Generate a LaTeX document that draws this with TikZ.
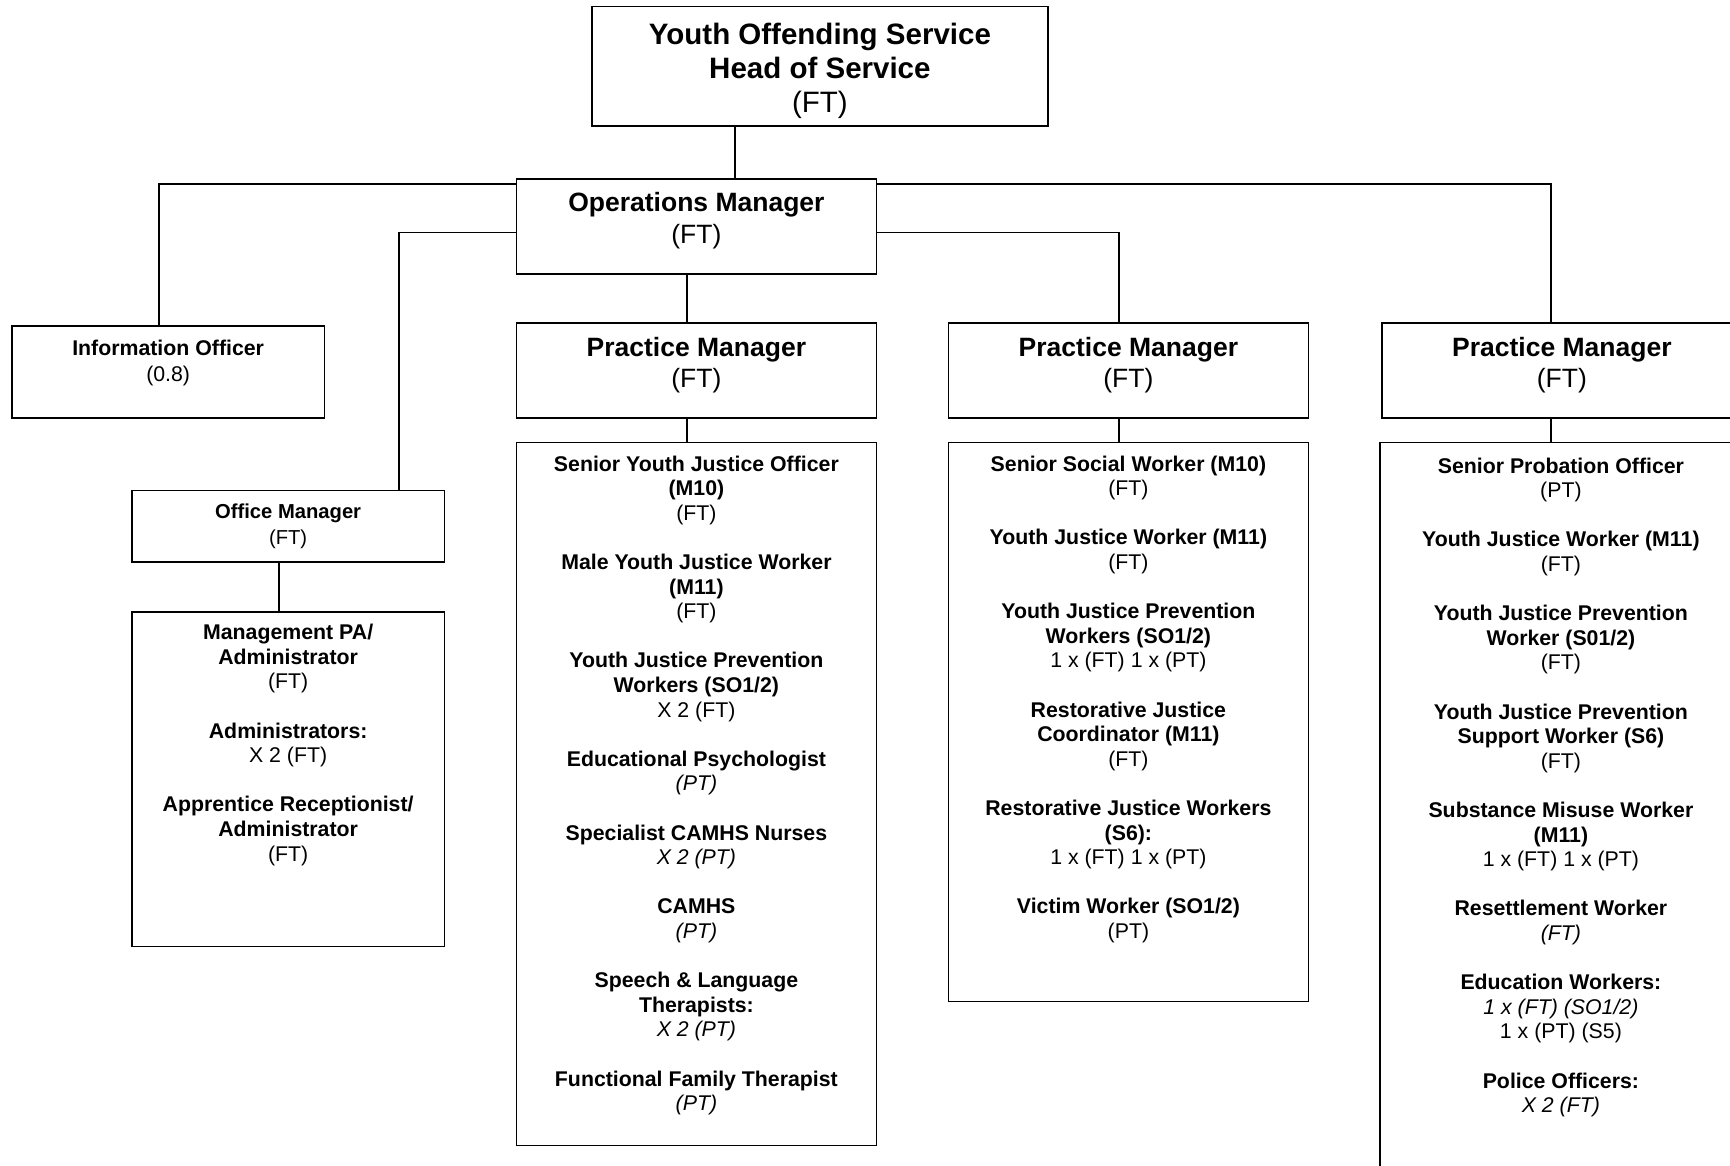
\documentclass[tikz,border=0pt]{standalone}
\usepackage{fontspec}
\setmainfont{Liberation Sans}
\usetikzlibrary{positioning}
\tikzset{box/.style = {draw, line width=1.8pt, inner sep=0, anchor=north west}}
\tikzset{txt/.style = {anchor=north, align=center, inner sep=0}}
\tikzset{link/.style = {line width=1.8pt}}
\tikzset{bigfont/.style = {font=\fontsize{29.5}{34}\selectfont}}
\tikzset{midfont/.style = {font=\fontsize{26.5}{31.5}\selectfont}}
\tikzset{smallfont/.style = {font=\fontsize{21.3}{24.6}\selectfont}}
\tikzset{tinyfont/.style = {font=\fontsize{20.2}{25.7}\selectfont}}

\begin{document}
\begin{tikzpicture}[x=1pt, y=-1pt]
      \useasboundingbox (0,0) rectangle (1730,1165);
      \clip (0,0) rectangle (1730,1165);
      \node [box, minimum width=456pt, minimum height=119.5pt] (head) at (591,5.5) {};
      \node [box, minimum width=360pt, minimum height=95pt] (ops) at (515.5,177.7) {};
      \node [box, minimum width=312.5pt, minimum height=92pt] (info) at (11,325.3) {};
      \node [box, minimum width=360pt, minimum height=95.3pt] (pmA) at (515.5,322) {};
      \node [box, minimum width=360pt, minimum height=95.3pt] (pmB) at (947.5,322) {};
      \node [box, minimum width=360pt, minimum height=95.3pt] (pmC) at (1381,322) {};
      \node [box, minimum width=312.5pt, minimum height=71.5pt] (office) at (131,489.5) {};
      \node [box, minimum width=312.5pt, minimum height=334.5pt] (admin) at (131,611) {};
      \node [box, minimum width=360pt, minimum height=703pt] (staffA) at (515.5,441.5) {};
      \node [box, minimum width=360pt, minimum height=559pt] (staffB) at (947.5,441.5) {};
      \node [box, minimum width=362pt, minimum height=760pt] (staffC) at (1379,441.5) {};
      \node [txt, bigfont] (headtxt) at ([yshift=-17pt]head.north)
        {\textbf{Youth Offending Service}\\ \textbf{Head of Service}\\ (FT)};
      \node [txt, midfont] (opstxt) at ([yshift=-14.5pt]ops.north)
        {\textbf{Operations Manager}\\ (FT)};
      \node [txt, smallfont, font=\fontsize{21.3}{25.7}\selectfont] (infotxt) at ([yshift=-15pt]info.north)
        {\textbf{Information Officer}\\ (0.8)};
      \node [txt, midfont] (pmAtxt) at ([yshift=-15pt]pmA.north) {\textbf{Practice Manager}\\ (FT)};
      \node [txt, midfont] (pmBtxt) at ([yshift=-15pt]pmB.north) {\textbf{Practice Manager}\\ (FT)};
      \node [txt, midfont] (pmCtxt) at ([yshift=-15pt]pmC.north) {\textbf{Practice Manager}\\ (FT)};
      \node [txt, tinyfont] (officetxt) at ([yshift=-14pt]office.north) {\textbf{Office Manager}\\ (FT)};
      \node [txt, smallfont] (admintxt) at ([yshift=-13pt]admin.north)
        {\textbf{Management PA/}\\ \textbf{Administrator}\\ (FT)\\[24.6pt]
         \textbf{Administrators:}\\ X 2 (FT)\\[24.6pt]
         \textbf{Apprentice Receptionist/}\\ \textbf{Administrator}\\ (FT)};
      \node [txt, smallfont] (staffAtxt) at ([yshift=-14pt]staffA.north)
        {\textbf{Senior Youth Justice Officer}\\ \textbf{(M10)}\\ (FT)\\[24.6pt]
         \textbf{Male Youth Justice Worker}\\ \textbf{(M11)}\\ (FT)\\[24.6pt]
         \textbf{Youth Justice Prevention}\\ \textbf{Workers (SO1/2)}\\ X 2 (FT)\\[24.6pt]
         \textbf{Educational Psychologist}\\ \textit{(PT)}\\[24.6pt]
         \textbf{Specialist CAMHS Nurses}\\ \textit{X 2 (PT)}\\[24.6pt]
         \textbf{CAMHS}\\ \textit{(PT)}\\[24.6pt]
         \textbf{Speech \& Language}\\ \textbf{Therapists:}\\ \textit{X 2 (PT)}\\[24.6pt]
         \textbf{Functional Family Therapist}\\ \textit{(PT)}};
      \node [txt, smallfont] (staffBtxt) at ([yshift=-14pt]staffB.north)
        {\textbf{Senior Social Worker (M10)}\\ (FT)\\[24.6pt]
         \textbf{Youth Justice Worker (M11)}\\ (FT)\\[24.6pt]
         \textbf{Youth Justice Prevention}\\ \textbf{Workers (SO1/2)}\\ 1 x (FT) 1 x (PT)\\[24.6pt]
         \textbf{Restorative Justice}\\ \textbf{Coordinator (M11)}\\ (FT)\\[24.6pt]
         \textbf{Restorative Justice Workers}\\ \textbf{(S6):}\\ 1 x (FT) 1 x (PT)\\[24.6pt]
         \textbf{Victim Worker (SO1/2)}\\ (PT)};
      \node [txt, smallfont] (staffCtxt) at ([yshift=-16pt]staffC.north)
        {\textbf{Senior Probation Officer}\\ (PT)\\[24.6pt]
         \textbf{Youth Justice Worker (M11)}\\ (FT)\\[24.6pt]
         \textbf{Youth Justice Prevention}\\ \textbf{Worker (S01/2)}\\ (FT)\\[24.6pt]
         \textbf{Youth Justice Prevention}\\ \textbf{Support Worker (S6)}\\ (FT)\\[24.6pt]
         \textbf{Substance Misuse Worker}\\ \textbf{(M11)}\\ 1 x (FT) 1 x (PT)\\[24.6pt]
         \textbf{Resettlement Worker}\\ \textit{(FT)}\\[24.6pt]
         \textbf{Education Workers:}\\ \textit{1 x (FT) (SO1/2)}\\ 1 x (PT) (S5)\\[24.6pt]
         \textbf{Police Officers:}\\ \textit{X 2 (FT)}};
      \draw [link] (head.south -| 735,0) -- (ops.north -| 735,0);
      \draw [link] (ops.west |- 0,184) -| (info.north -| 159,0);
      \draw [link] (ops.east |- 0,184) -| (pmC.north -| 1551,0);
      \draw [link] (ops.west |- 0,232.5) -| (office.north -| 399,0);
      \draw [link] (ops.east |- 0,232.5) -| (pmB.north -| 1119,0);
      \draw [link] (ops.south -| 687,0) -- (pmA.north -| 687,0);
      \draw [link] (pmA.south -| 687,0) -- (staffA.north -| 687,0);
      \draw [link] (pmB.south -| 1119,0) -- (staffB.north -| 1119,0);
      \draw [link] (pmC.south -| 1551,0) -- (staffC.north -| 1551,0);
      \draw [link] (office.south -| 279,0) -- (admin.north -| 279,0);
    \end{tikzpicture}
\end{document}
